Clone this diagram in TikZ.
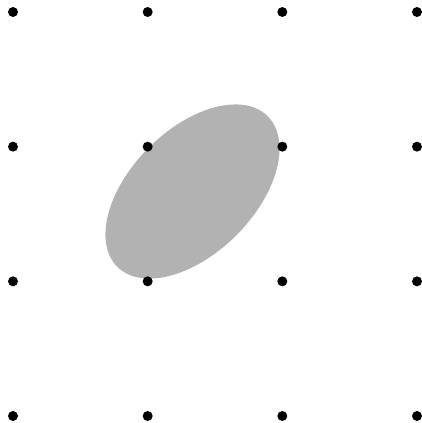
\documentclass[tikz,border=0pt]{standalone}
\begin{document}
\begin{tikzpicture}[x=1cm,y=1cm,
  gridpt/.style={circle,fill=black,inner sep=0pt,minimum size=0.074cm},
  blob/.style={fill=black!30}]
\useasboundingbox (-0.0965,-0.052) rectangle (3.037,3.089);
\fill[blob,rotate around={45:(1.333,1.667)}] (1.333,1.667) ellipse [x radius=0.79, y radius=0.46];
\foreach \i in {0,1,2,3}{
  \foreach \j in {0,1,2,3}{
    \node[gridpt] (p\i\j) at (\i,\j) {};
  }
}
\end{tikzpicture}
\end{document}
